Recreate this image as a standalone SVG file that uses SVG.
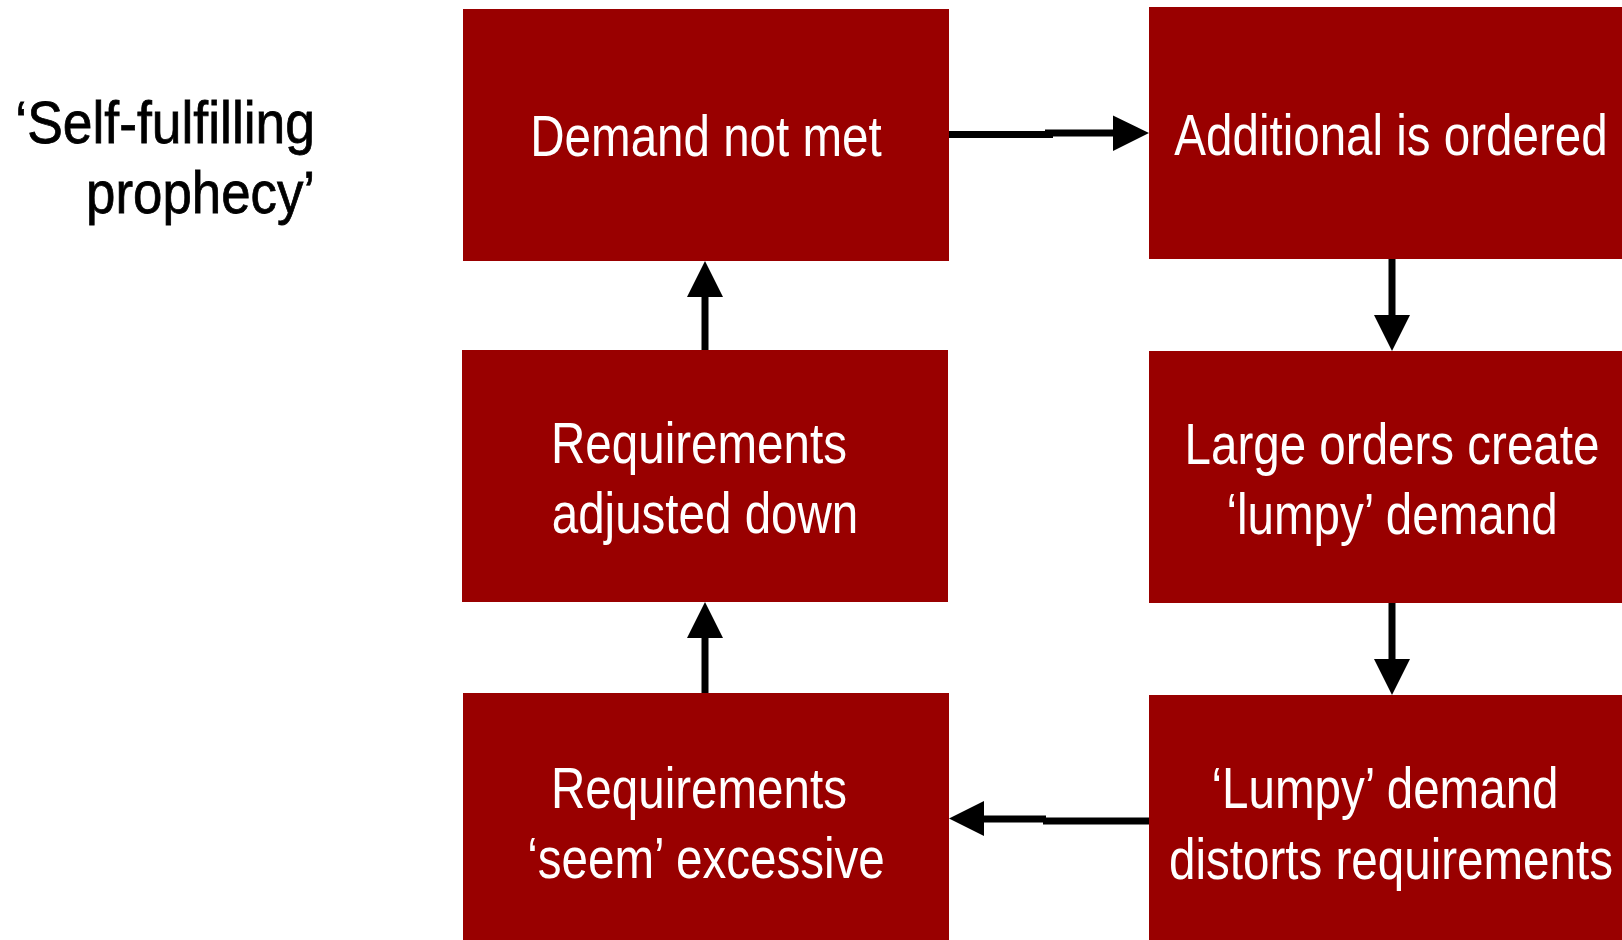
<svg xmlns="http://www.w3.org/2000/svg" width="1622" height="940" viewBox="0 0 1622 940">
<style>
.box{fill:#990000}
.t{font-family:"Liberation Sans",Arial,sans-serif;font-size:58px;fill:#ffffff;text-anchor:middle}
.title{font-family:"Liberation Sans",Arial,sans-serif;font-size:60px;fill:#000000;stroke:#000000;stroke-width:0.8;text-anchor:end}
.ln{stroke:#000;stroke-width:7;fill:none}
.hd{fill:#000}
</style>
<rect width="1622" height="940" fill="#ffffff"/>
<g id="title">
<text class="title" transform="translate(315,143) scale(0.89,1)">‘Self-fulfilling</text>
<text class="title" transform="translate(315,213) scale(0.88,1)">prophecy’</text>
</g>
<g id="n1">
<rect class="box" x="463" y="9" width="486" height="252"/>
<text class="t" transform="translate(706,156) scale(0.82,1)">Demand not met</text>
</g>
<g id="n2">
<rect class="box" x="1149" y="7" width="473" height="252"/>
<text class="t" transform="translate(1391,155) scale(0.82,1)">Additional is ordered</text>
</g>
<g id="n3">
<rect class="box" x="1149" y="351" width="473" height="252"/>
<text class="t" transform="translate(1392,464) scale(0.82,1)">Large orders create</text>
<text class="t" transform="translate(1392,534) scale(0.82,1)">‘lumpy’ demand</text>
</g>
<g id="n4">
<rect class="box" x="1149" y="695" width="473" height="245"/>
<text class="t" transform="translate(1385,808) scale(0.82,1)">‘Lumpy’ demand</text>
<text class="t" transform="translate(1391,879) scale(0.82,1)">distorts requirements</text>
</g>
<g id="n5">
<rect class="box" x="463" y="693" width="486" height="247"/>
<text class="t" transform="translate(699,808) scale(0.82,1)">Requirements</text>
<text class="t" transform="translate(706,878) scale(0.82,1)">‘seem’ excessive</text>
</g>
<g id="n6">
<rect class="box" x="462" y="350" width="486" height="252"/>
<text class="t" transform="translate(699,463) scale(0.82,1)">Requirements</text>
<text class="t" transform="translate(705,533) scale(0.82,1)">adjusted down</text>
</g>
<g id="connectors">
<path class="ln" d="M949,134.5 H1053"/>
<path class="ln" d="M1045,133 H1115"/>
<polygon class="hd" points="1113,115.5 1149,133 1113,151"/>
<path class="ln" d="M1392,259 V316"/>
<polygon class="hd" points="1374,315 1410,315 1392,351"/>
<path class="ln" d="M1392,603 V660"/>
<polygon class="hd" points="1374,659 1410,659 1392,695"/>
<path class="ln" d="M1149,821 H1043"/>
<path class="ln" d="M1046,819 H982"/>
<polygon class="hd" points="984,801 984,836 949,818.5"/>
<path class="ln" d="M705,693 V637"/>
<polygon class="hd" points="687,638 723,638 705,602"/>
<path class="ln" d="M705,350 V296"/>
<polygon class="hd" points="687,297 723,297 705,261"/>
</g>
</svg>
